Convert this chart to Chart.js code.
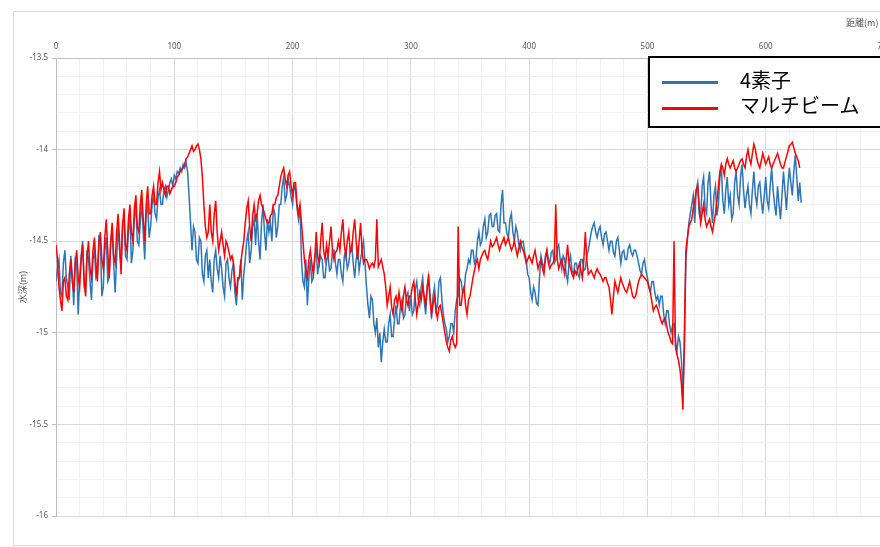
<!DOCTYPE html>
<html>
<head>
<meta charset="utf-8">
<script src="https://cdn.jsdelivr.net/npm/chart.js@4"></script>
<style>
  html, body { margin: 0; padding: 0; overflow: hidden; background: #fff; width: 880px; height: 547px; }
  #wrap { position: relative; width: 900px; height: 547px; }
  #frame { position: absolute; left: 13px; top: 11px; width: 900px; height: 535px; border: 1px solid #d9d9d9; box-sizing: border-box; }
  #chart { position: absolute; left: 0; top: 0; }
  #xtitle { position: absolute; left: 846px; top: 16px; font: 9px "Noto Sans CJK JP", sans-serif; color: #595959; white-space: nowrap; }
  #legend { position: absolute; left: 648px; top: 56px; width: 260px; height: 72px; border: 2px solid #000; box-sizing: border-box; background: #fff; font-family: "Noto Sans CJK JP", sans-serif; font-size: 20px; color: #000; }
  .sw { position: absolute; left: 12px; width: 56px; height: 3px; }
  .lbl { position: absolute; left: 90px; line-height: 20px; white-space: nowrap; }
</style>
</head>
<body>
<div id="wrap">
  <div id="frame"></div>
  <canvas id="chart" width="900" height="547"></canvas>
  <div id="xtitle">距離(m)</div>
  <div id="legend">
    <div class="sw" id="sw0" style="top:23px;"></div>
    <div class="lbl" id="lb0" style="top:12px;"></div>
    <div class="sw" id="sw1" style="top:49px;"></div>
    <div class="lbl" id="lb1" style="top:37px;"></div>
  </div>
</div>
<script>
// Sounding profile along the survey line: depth (m) every 1.25 m of distance.
const STEP_M = 1.25;

const seriesNames = ['4素子', 'マルチビーム'];
const seriesColors = ['#2E75B6', '#FF0000'];

// 4-element transducer soundings (0 m .. 630 m), one row per 10 m
const depth4Element = [
  -14.72, -14.65, -14.6, -14.78, -14.8, -14.62, -14.55, -14.7,
  -14.75, -14.82, -14.58, -14.68, -14.85, -14.6, -14.62, -14.9,
  -14.7, -14.58, -14.5, -14.75, -14.78, -14.55, -14.6, -14.72,
  -14.82, -14.6, -14.55, -14.7, -14.68, -14.48, -14.5, -14.8,
  -14.75, -14.55, -14.48, -14.72, -14.7, -14.5, -14.45, -14.62,
  -14.78, -14.6, -14.42, -14.55, -14.65, -14.4, -14.38, -14.58,
  -14.6, -14.45, -14.35, -14.62, -14.55, -14.38, -14.3, -14.5,
  -14.52, -14.4, -14.28, -14.45, -14.6, -14.35, -14.3, -14.48,
  -14.42, -14.3, -14.25, -14.35, -14.38, -14.26, -14.22, -14.3,
  -14.3, -14.22, -14.2, -14.26, -14.22, -14.18, -14.16, -14.2,
  -14.14, -14.16, -14.12, -14.13, -14.1, -14.12, -14.08, -14.1,
  -14.07, -14.12, -14.25, -14.4, -14.55, -14.42, -14.45, -14.6,
  -14.62, -14.48, -14.5, -14.68, -14.72, -14.58, -14.55, -14.7,
  -14.6, -14.72, -14.78, -14.6, -14.55, -14.65, -14.7, -14.58,
  -14.65, -14.75, -14.8, -14.62, -14.6, -14.7, -14.75, -14.66,
  -14.62, -14.78, -14.85, -14.72, -14.7, -14.6, -14.82, -14.68,
  -14.6, -14.5, -14.45, -14.62, -14.55, -14.42, -14.38, -14.52,
  -14.35, -14.5, -14.6, -14.4, -14.3, -14.45, -14.55, -14.38,
  -14.45, -14.4, -14.5, -14.32, -14.35, -14.48, -14.42, -14.3,
  -14.3, -14.2, -14.15, -14.28, -14.25, -14.16, -14.2, -14.26,
  -14.3, -14.2, -14.22, -14.32, -14.38, -14.3, -14.6, -14.72,
  -14.75, -14.6, -14.85, -14.7, -14.6, -14.72, -14.7, -14.58,
  -14.55, -14.68, -14.62, -14.58, -14.6, -14.7, -14.7, -14.6,
  -14.58, -14.66, -14.65, -14.55, -14.55, -14.62, -14.68, -14.6,
  -14.6, -14.68, -14.72, -14.58, -14.55, -14.65, -14.62, -14.55,
  -14.52, -14.62, -14.7, -14.6, -14.55, -14.66, -14.6, -14.55,
  -14.5, -14.62, -14.75, -14.85, -14.92, -14.8, -14.82, -14.95,
  -15.0, -14.92, -15.08, -15.0, -15.16, -15.05, -14.98, -15.05,
  -15.05, -14.95, -14.9, -15.02, -15.02, -14.92, -14.85, -14.95,
  -14.95, -14.85, -14.82, -14.92, -14.9, -14.8, -14.78, -14.88,
  -14.8, -14.9, -14.88, -14.76, -14.72, -14.82, -14.85, -14.75,
  -14.7, -14.82, -14.9, -14.75, -14.68, -14.8, -14.92, -14.8,
  -14.75, -14.88, -14.85, -14.72, -14.7, -14.82, -14.9, -14.95,
  -14.98, -15.05, -15.02, -14.95, -14.95, -15.0, -14.88, -14.82,
  -14.8, -14.7, -14.72, -14.78, -14.78, -14.68, -14.65, -14.6,
  -14.62, -14.55, -14.55, -14.62, -14.6, -14.5, -14.45, -14.52,
  -14.5, -14.42, -14.38, -14.48, -14.45, -14.36, -14.35, -14.42,
  -14.42, -14.36, -14.35, -14.44, -14.45, -14.3, -14.22, -14.4,
  -14.4, -14.46, -14.48, -14.38, -14.35, -14.45, -14.5, -14.42,
  -14.45, -14.52, -14.55, -14.5, -14.5, -14.56, -14.6, -14.68,
  -14.7, -14.78, -14.82, -14.75, -14.78, -14.84, -14.85, -14.7,
  -14.58, -14.62, -14.65, -14.58, -14.55, -14.6, -14.62, -14.56,
  -14.55, -14.62, -14.6, -14.54, -14.52, -14.6, -14.65, -14.58,
  -14.6, -14.68, -14.72, -14.62, -14.58, -14.66, -14.68, -14.62,
  -14.62, -14.68, -14.7, -14.6, -14.6, -14.66, -14.65, -14.58,
  -14.55, -14.5, -14.45, -14.42, -14.4, -14.45, -14.48, -14.44,
  -14.42, -14.48, -14.52, -14.46, -14.45, -14.5, -14.55, -14.5,
  -14.5, -14.56, -14.58, -14.5, -14.48, -14.55, -14.62, -14.56,
  -14.55, -14.6, -14.6, -14.54, -14.52, -14.56, -14.58, -14.55,
  -14.55, -14.58, -14.62, -14.66, -14.68, -14.62, -14.6, -14.66,
  -14.7, -14.75, -14.78, -14.72, -14.72, -14.78, -14.82, -14.8,
  -14.85, -14.8, -14.8, -14.9, -14.95, -14.88, -14.88, -14.96,
  -15.0, -14.96, -14.95, -15.05, -15.1, -15.02, -15.05, -15.15,
  -15.32, -15.1, -14.6, -14.5, -14.4, -14.35, -14.3, -14.25,
  -14.4, -14.22, -14.18, -14.35, -14.38, -14.2, -14.15, -14.32,
  -14.35, -14.18, -14.12, -14.3, -14.4, -14.25, -14.2, -14.36,
  -14.3, -14.15, -14.1, -14.28, -14.35, -14.22, -14.15, -14.3,
  -14.25, -14.38, -14.35, -14.18, -14.12, -14.25, -14.3, -14.15,
  -14.08, -14.22, -14.32, -14.25, -14.2, -14.3, -14.35, -14.22,
  -14.12, -14.25, -14.3, -14.2, -14.18, -14.28, -14.35, -14.25,
  -14.15, -14.28, -14.32, -14.2, -14.1, -14.22, -14.3, -14.36,
  -14.2, -14.3, -14.38, -14.25, -14.12, -14.22, -14.33, -14.2,
  -14.1, -14.18, -14.25, -14.12, -14.03, -14.15, -14.28, -14.18,
  -14.29
];

// Multibeam soundings (0 m .. 628.75 m), one row per 10 m
const depthMultibeam = [
  -14.52, -14.6, -14.75, -14.82, -14.88, -14.72, -14.7, -14.8,
  -14.82, -14.68, -14.6, -14.72, -14.78, -14.62, -14.55, -14.7,
  -14.75, -14.6, -14.52, -14.7, -14.8, -14.58, -14.5, -14.65,
  -14.7, -14.55, -14.48, -14.62, -14.72, -14.52, -14.45, -14.6,
  -14.65, -14.48, -14.38, -14.55, -14.7, -14.5, -14.4, -14.58,
  -14.62, -14.45, -14.35, -14.5, -14.68, -14.42, -14.32, -14.52,
  -14.55, -14.38, -14.3, -14.45, -14.5, -14.32, -14.25, -14.42,
  -14.45, -14.3, -14.22, -14.38, -14.5, -14.3, -14.2, -14.35,
  -14.35, -14.25, -14.2, -14.3, -14.3, -14.18, -14.12, -14.22,
  -14.18, -14.22, -14.25, -14.2, -14.2, -14.24, -14.22, -14.2,
  -14.2, -14.18, -14.15, -14.14, -14.12, -14.11, -14.1, -14.08,
  -14.05, -14.04, -14.02, -14.0, -13.98, -14.01, -14.0, -13.98,
  -13.97, -14.0, -14.05, -14.15, -14.3, -14.42, -14.48, -14.45,
  -14.3, -14.45, -14.5, -14.35, -14.28, -14.45, -14.55, -14.5,
  -14.45, -14.52, -14.58, -14.5, -14.52, -14.56, -14.6, -14.58,
  -14.62, -14.72, -14.8, -14.7, -14.7, -14.62, -14.55, -14.5,
  -14.4, -14.32, -14.28, -14.42, -14.5, -14.36, -14.3, -14.38,
  -14.35, -14.28, -14.25, -14.3, -14.32, -14.35, -14.38, -14.4,
  -14.4, -14.36, -14.35, -14.3, -14.3, -14.26, -14.25, -14.2,
  -14.15, -14.12, -14.1, -14.16, -14.2, -14.14, -14.12, -14.2,
  -14.25, -14.18, -14.18, -14.3, -14.35, -14.3, -14.4, -14.5,
  -14.6, -14.66, -14.7, -14.6, -14.55, -14.62, -14.68, -14.6,
  -14.45, -14.58, -14.62, -14.5, -14.4, -14.55, -14.6, -14.52,
  -14.58, -14.5, -14.42, -14.55, -14.6, -14.56, -14.55, -14.5,
  -14.55, -14.45, -14.38, -14.52, -14.58, -14.5, -14.45, -14.56,
  -14.55, -14.45, -14.38, -14.5, -14.6, -14.5, -14.4, -14.55,
  -14.62, -14.6, -14.6, -14.62, -14.65, -14.63, -14.62, -14.64,
  -14.6, -14.38, -14.64, -14.62, -14.6, -14.64, -14.68, -14.75,
  -14.85, -14.8, -14.75, -14.86, -14.9, -14.82, -14.8, -14.85,
  -14.78, -14.84, -14.88, -14.8, -14.75, -14.82, -14.85, -14.8,
  -14.8, -14.75, -14.72, -14.82, -14.9, -14.84, -14.78, -14.82,
  -14.75, -14.8, -14.85, -14.76, -14.7, -14.82, -14.9, -14.84,
  -14.8, -14.88, -14.92, -14.86, -14.85, -14.9, -14.95, -15.0,
  -15.05, -15.08, -15.1, -15.04, -15.02, -15.06, -15.08, -15.06,
  -14.42, -14.85, -14.85, -14.78, -14.75, -14.85, -14.9, -14.82,
  -14.8, -14.75, -14.7, -14.66, -14.62, -14.6, -14.65, -14.6,
  -14.58, -14.56, -14.55, -14.58, -14.6, -14.55, -14.5, -14.53,
  -14.52, -14.5, -14.48, -14.52, -14.55, -14.52, -14.5, -14.48,
  -14.52, -14.5, -14.48, -14.52, -14.55, -14.53, -14.5, -14.54,
  -14.58, -14.54, -14.5, -14.53, -14.55, -14.58, -14.62, -14.6,
  -14.58, -14.6, -14.62, -14.58, -14.55, -14.6, -14.65, -14.62,
  -14.6, -14.65, -14.68, -14.6, -14.55, -14.62, -14.65, -14.63,
  -14.62, -14.6, -14.3, -14.6, -14.65, -14.62, -14.6, -14.64,
  -14.68, -14.6, -14.52, -14.62, -14.65, -14.68, -14.7, -14.66,
  -14.68, -14.65, -14.62, -14.66, -14.7, -14.6, -14.45, -14.6,
  -14.68, -14.67, -14.66, -14.68, -14.7, -14.67, -14.65, -14.67,
  -14.68, -14.7, -14.72, -14.7, -14.7, -14.73, -14.75, -14.82,
  -14.9, -14.8, -14.72, -14.75, -14.78, -14.74, -14.7, -14.73,
  -14.75, -14.77, -14.78, -14.75, -14.72, -14.76, -14.8, -14.81,
  -14.8, -14.76, -14.72, -14.7, -14.68, -14.69, -14.7, -14.71,
  -14.72, -14.75, -14.78, -14.83, -14.88, -14.86, -14.85, -14.87,
  -14.9, -14.93, -14.95, -14.93, -14.92, -14.96, -15.0, -15.02,
  -15.05, -15.06, -14.5, -15.08, -15.12, -15.15, -15.2, -15.28,
  -15.42, -15.0, -14.55, -14.48, -14.42, -14.4, -14.38, -14.32,
  -14.28, -14.22, -14.2, -14.3, -14.4, -14.35, -14.3, -14.38,
  -14.42, -14.4, -14.38, -14.42, -14.45, -14.4, -14.35, -14.28,
  -14.2, -14.12, -14.08, -14.1, -14.14, -14.08, -14.05, -14.08,
  -14.1, -14.08, -14.06, -14.1, -14.12, -14.1, -14.08, -14.06,
  -14.05, -14.08, -14.1, -14.04, -14.0, -14.05, -14.08, -14.02,
  -13.97, -14.0, -14.05, -14.08, -14.1, -14.06, -14.02, -14.05,
  -14.08, -14.06, -14.04, -14.08, -14.1, -14.08, -14.06, -14.04,
  -14.02, -14.05, -14.08, -14.1, -14.1, -14.07, -14.04, -14.01,
  -13.98, -13.97, -13.96, -13.99, -14.02, -14.04, -14.06, -14.1
];

// Axis ranges and tick spacing
const distanceMin = 0, distanceMax = 700, distanceMajor = 100, distanceMinor = 20;
const depthMin = -16, depthMax = -13.5, depthMajor = 0.5, depthMinor = 0.1;

const toPoints = arr => arr.map((v, i) => ({ x: i * STEP_M, y: v }));

const isMultiple = (v, step) => Math.abs(v / step - Math.round(v / step)) < 1e-6;

// HTML legend
seriesNames.forEach((name, i) => {
  document.getElementById('sw' + i).style.background = seriesColors[i];
  document.getElementById('lb' + i).textContent = name;
});

const tickFont = { family: '"Noto Sans", sans-serif', size: 8 };
const tickColor = '#595959';

new Chart(document.getElementById('chart'), {
  type: 'line',
  data: {
    datasets: [
      {
        label: seriesNames[0],
        data: toPoints(depth4Element),
        borderColor: seriesColors[0],
        borderWidth: 1.5,
        pointRadius: 0,
        tension: 0,
        order: 2
      },
      {
        label: seriesNames[1],
        data: toPoints(depthMultibeam),
        borderColor: seriesColors[1],
        borderWidth: 1.5,
        pointRadius: 0,
        tension: 0,
        order: 1
      }
    ]
  },
  options: {
    responsive: false,
    animation: false,
    devicePixelRatio: 1,
    layout: { padding: { left: 0, top: 0, right: 16, bottom: 31 } },
    plugins: { legend: { display: false }, tooltip: { enabled: false } },
    scales: {
      x: {
        type: 'linear',
        position: 'top',
        min: distanceMin,
        max: distanceMax,
        afterFit: s => { s.height = 58; },
        ticks: {
          stepSize: distanceMinor,
          autoSkip: false,
          maxRotation: 0,
          padding: 6,
          font: tickFont,
          color: tickColor,
          callback: v => isMultiple(v, distanceMajor) ? String(v) : ''
        },
        grid: {
          drawTicks: false,
          color: c => isMultiple(c.tick.value, distanceMajor) ? '#d9d9d9' : '#f2f2f2',
          lineWidth: 1
        },
        border: { color: '#bfbfbf', width: 1 }
      },
      y: {
        type: 'linear',
        min: depthMin,
        max: depthMax,
        afterFit: s => { s.width = 56; },
        title: {
          display: true,
          text: '水深(m)',
          font: { family: '"Noto Sans CJK JP", sans-serif', size: 9 },
          color: tickColor,
          padding: { top: 17, bottom: 0 }
        },
        ticks: {
          stepSize: depthMinor,
          autoSkip: false,
          padding: 4,
          font: tickFont,
          color: tickColor,
          callback: v => isMultiple(v, depthMajor) ? String(Math.round(v * 10) / 10) : ''
        },
        grid: {
          drawTicks: true,
          tickLength: 4,
          tickColor: c => isMultiple(c.tick.value, depthMajor) ? '#bfbfbf' : 'rgba(0,0,0,0)',
          color: c => isMultiple(c.tick.value, depthMajor) ? '#d9d9d9' : '#f2f2f2',
          lineWidth: 1
        },
        border: { color: '#bfbfbf', width: 1 }
      }
    }
  }
});
</script>
</body>
</html>
